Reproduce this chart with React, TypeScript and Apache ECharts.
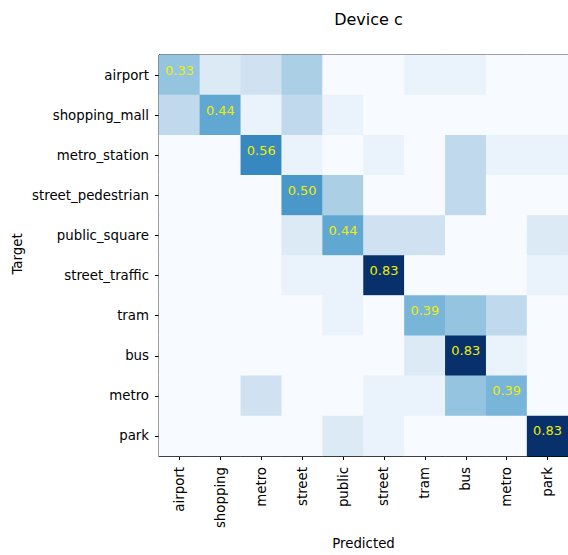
import React, { useEffect, useRef } from "react";
import * as echarts from "echarts";

const rowLabels = ["airport", "shopping_mall", "metro_station", "street_pedestrian", "public_square", "street_traffic", "tram", "bus", "metro", "park"];
const colLabels = ["airport", "shopping", "metro", "street", "public", "street", "tram", "bus", "metro", "park"];

const airport = [0.333, 0.111, 0.167, 0.278, 0, 0, 0.056, 0.056, 0, 0];
const shoppingMall = [0.222, 0.444, 0.056, 0.222, 0.056, 0, 0, 0, 0, 0];
const metroStation = [0, 0, 0.556, 0.056, 0, 0.056, 0, 0.222, 0.056, 0.056];
const streetPedestrian = [0, 0, 0, 0.5, 0.278, 0, 0, 0.222, 0, 0];
const publicSquare = [0, 0, 0, 0.111, 0.444, 0.167, 0.167, 0, 0, 0.111];
const streetTraffic = [0, 0, 0, 0.056, 0.056, 0.833, 0, 0, 0, 0.056];
const tram = [0, 0, 0, 0, 0.056, 0, 0.389, 0.333, 0.222, 0];
const bus = [0, 0, 0, 0, 0, 0, 0.111, 0.833, 0.056, 0];
const metro = [0, 0, 0.167, 0, 0, 0.056, 0.056, 0.333, 0.389, 0];
const park = [0, 0, 0, 0, 0.111, 0.056, 0, 0, 0, 0.833];

const matrix = [airport, shoppingMall, metroStation, streetPedestrian, publicSquare, streetTraffic, tram, bus, metro, park];

const blues = ["#f7fbff", "#deebf7", "#c6dbef", "#9ecae1", "#6baed6", "#4292c6", "#2171b5", "#08519c", "#08306b"];

const FONT = "DejaVu Sans";

export default function App() {
  const ref = useRef<HTMLDivElement>(null);
  useEffect(() => {
    if (!ref.current) return;
    const chart = echarts.init(ref.current, null, { renderer: "svg" });
    const data: any[] = [];
    matrix.forEach((row, i) => {
      row.forEach((v, j) => {
        data.push({ value: [j, i, v], label: { show: i === j } });
      });
    });
    const vmax = Math.max(...matrix.flat());
    chart.setOption({
      animation: false,
      textStyle: { fontFamily: FONT },
      title: {
        text: "Device c",
        left: 363.5,
        top: 6,
        textAlign: "center",
        textStyle: { fontFamily: FONT, fontSize: 16, fontWeight: "normal", color: "#000" },
      },
      grid: {
        left: 159,
        right: -1,
        top: 55,
        height: 409,
        show: true,
        borderColor: "#000",
        borderWidth: 1,
        backgroundColor: "transparent",
      },
      visualMap: {
        type: "continuous",
        show: false,
        min: 0,
        max: vmax,
        inRange: { color: blues },
      },
      xAxis: {
        type: "category",
        data: colLabels.map((_, i) => "c" + i),
        axisLine: { show: true, lineStyle: { color: "#000", width: 1 } },
        axisTick: { show: true, alignWithLabel: true, length: 4, lineStyle: { color: "#000" } },
        axisLabel: {
          rotate: 90,
          margin: 11,
          fontSize: 13.33,
          color: "#000",
          fontFamily: FONT,
          formatter: (_v: string, idx: number) => colLabels[idx],
          interval: 0,
        },
        splitLine: { show: false },
        splitArea: { show: false },
        name: "Predicted",
        nameLocation: "middle",
        nameGap: 81,
        nameTextStyle: { fontSize: 13.33, color: "#000", fontFamily: FONT },
      },
      yAxis: {
        type: "category",
        inverse: true,
        data: rowLabels.map((_, i) => "r" + i),
        axisLine: { show: true, lineStyle: { color: "#000", width: 1 } },
        axisTick: { show: true, alignWithLabel: true, length: 4, lineStyle: { color: "#000" } },
        axisLabel: {
          margin: 10,
          fontSize: 13.33,
          color: "#000",
          fontFamily: FONT,
          formatter: (_v: string, idx: number) => rowLabels[idx],
          interval: 0,
        },
        splitLine: { show: false },
        splitArea: { show: false },
      },
      graphic: [
        {
          type: "text",
          x: 17,
          y: 254,
          rotation: Math.PI / 2,
          style: {
            text: "Target",
            fontFamily: FONT,
            fontSize: 13.33,
            fill: "#000",
            align: "center",
            verticalAlign: "middle",
          },
        },
      ],
      series: [
        {
          type: "heatmap",
          data,
          label: {
            show: false,
            color: "#eeee00",
            fontFamily: FONT,
            fontSize: 13,
            offset: [0, -5],
            formatter: (p: any) => p.value[2].toFixed(2),
          },
          itemStyle: { borderWidth: 0 },
          emphasis: { disabled: true },
        },
      ],
    });
    return () => chart.dispose();
  }, []);
  return (
    <div
      ref={ref}
      style={{ position: "fixed", left: 0, top: 0, width: 568, height: 555, background: "#fff" }}
    />
  );
}
